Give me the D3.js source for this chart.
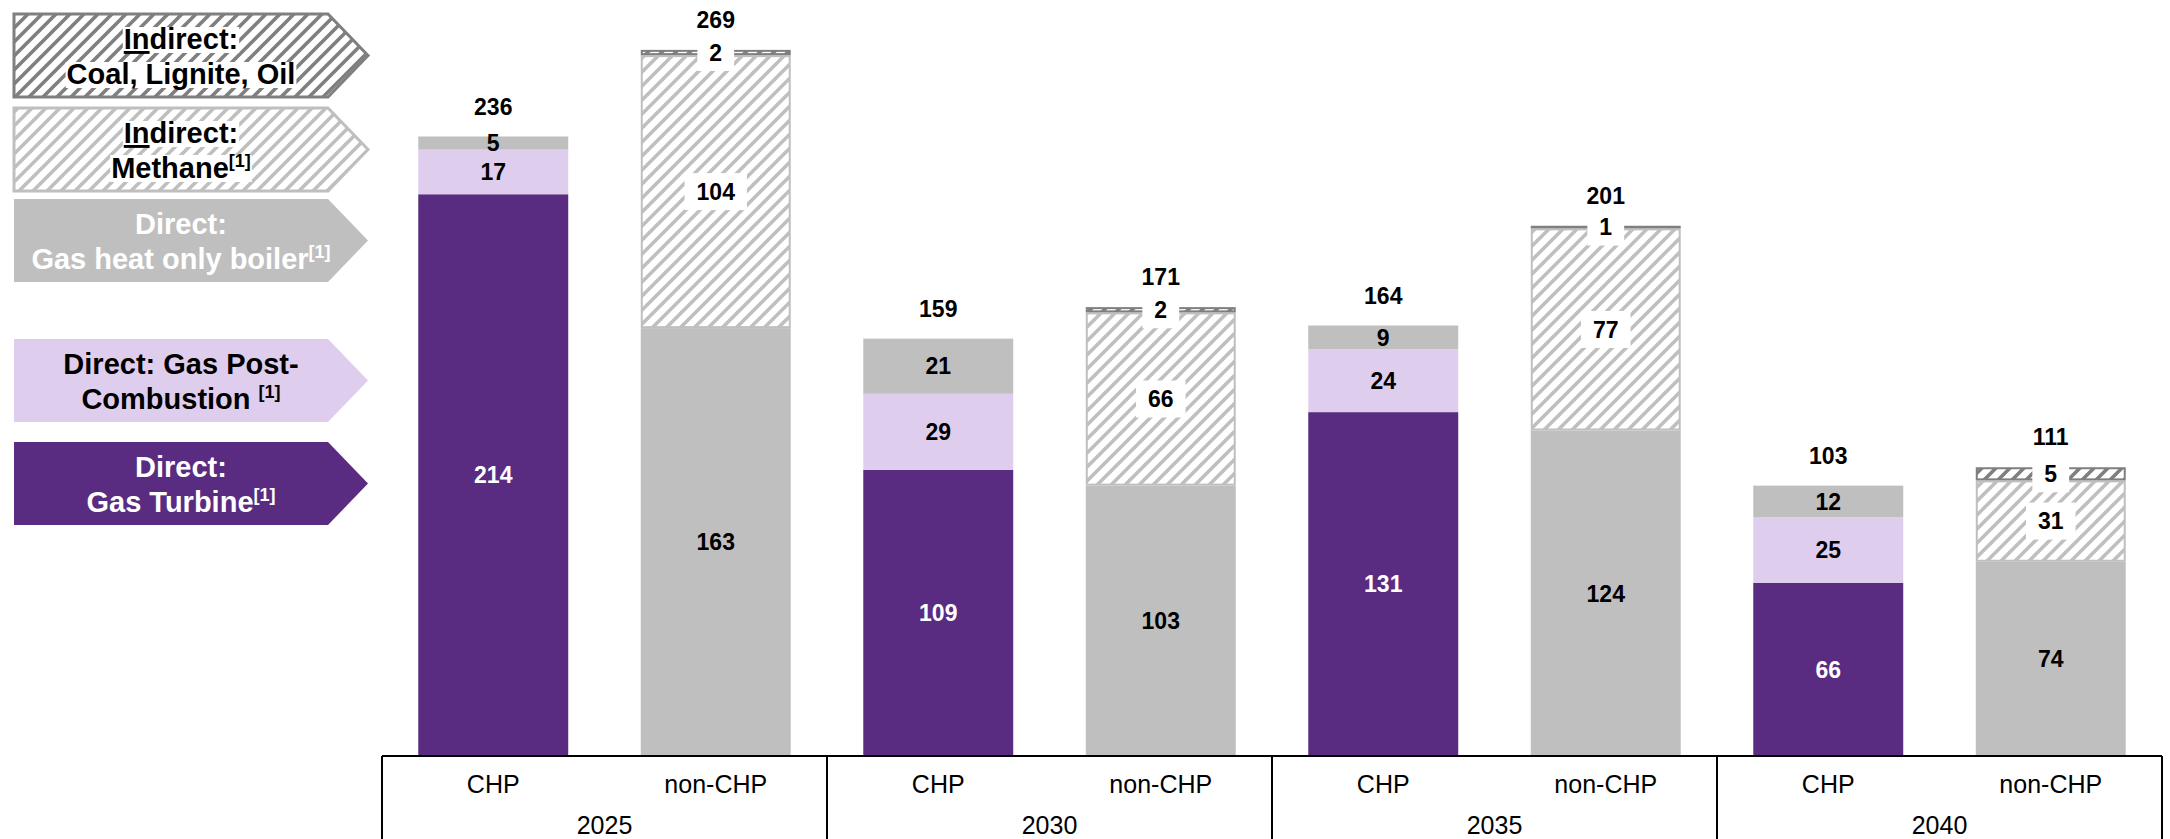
<!DOCTYPE html>
<html><head><meta charset="utf-8">
<script src="https://cdn.jsdelivr.net/npm/d3@7"></script>
<style>
html,body{margin:0;padding:0;background:#fff;}
svg{display:block;font-family:"Liberation Sans",Arial,sans-serif;}
</style></head>
<body>
<svg id="chart" width="2170" height="839"></svg>
<script>
// ---------- data ----------
const years = ["2025", "2030", "2035", "2040"];
const types = ["CHP", "non-CHP"];
// one value per bar: 2025 CHP, 2025 non-CHP, 2030 CHP, ...
const gasTurbine  = [214, 0, 109, 0, 131, 0, 66, 0];
const gasPostComb = [17, 0, 29, 0, 24, 0, 25, 0];
const gasBoiler   = [5, 163, 21, 103, 9, 124, 12, 74];
const methane     = [0, 104, 0, 66, 0, 77, 0, 31];
const coal        = [0, 2, 0, 2, 0, 1, 0, 5];
const totals      = [236, 269, 159, 171, 164, 201, 103, 111];
const seriesKeys  = ["turbine", "postComb", "boiler", "methane", "coal"];

// ---------- setup ----------
const svg = d3.select("#chart");
const PURPLE = "#592c82", LAV = "#dfcdee", GRAY = "#bfbfbf", DARK = "#7f7f7f";
const baseY = 756, axL = 382, axR = 2162;

const defs = svg.append("defs");
function hatch(id, color, sw) {
  const p = defs.append("pattern").attr("id", id).attr("patternUnits", "userSpaceOnUse")
    .attr("width", 14).attr("height", 14);
  p.append("rect").attr("width", 14).attr("height", 14).attr("fill", "#fff");
  p.append("path").attr("d", "M-3.5,3.5 l7,-7 M0,14 l14,-14 M10.5,17.5 l7,-7")
    .attr("stroke", color).attr("stroke-width", sw).attr("fill", "none");
}
hatch("hatchLight", GRAY, 3.6);
hatch("hatchDark", DARK, 3.6);

const style = {
  turbine:  {fill: PURPLE, stroke: "none", text: "#fff", box: false},
  postComb: {fill: LAV, stroke: "none", text: "#000", box: false},
  boiler:   {fill: GRAY, stroke: "none", text: "#000", box: false},
  methane:  {fill: "url(#hatchLight)", stroke: GRAY, text: "#000", box: true},
  coal:     {fill: "url(#hatchDark)", stroke: DARK, text: "#000", box: true}
};

const rows = d3.range(totals.length).map(i => ({
  year: years[Math.floor(i / 2)], type: types[i % 2], total: totals[i],
  turbine: gasTurbine[i], postComb: gasPostComb[i], boiler: gasBoiler[i],
  methane: methane[i], coal: coal[i]
}));

const y = d3.scaleLinear().domain([0, 288]).range([baseY, 0]);
const x0 = d3.scaleBand().domain(years).range([axL, axR]);
const x1 = d3.scaleBand().domain(types).range([0, x0.bandwidth()])
  .paddingInner(0.326).paddingOuter(0.163);

const stacked = d3.stack().keys(seriesKeys)(rows);

// ---------- bars ----------
const gBars = svg.append("g");
stacked.forEach(s => {
  const st = style[s.key];
  const ins = st.stroke !== "none" ? 1 : 0;
  gBars.selectAll(null).data(s.filter(d => d.data[s.key] > 0)).join("rect")
    .attr("x", d => x0(d.data.year) + x1(d.data.type) + ins)
    .attr("width", x1.bandwidth() - 2 * ins)
    .attr("y", d => y(d[1]) + ins)
    .attr("height", d => Math.max(0.5, y(d[0]) - y(d[1]) - 2 * ins))
    .attr("fill", st.fill).attr("stroke", st.stroke).attr("stroke-width", 2);
});

// ---------- segment labels ----------
const gBox = svg.append("g"), gLab = svg.append("g");
stacked.forEach(s => {
  const st = style[s.key];
  s.filter(d => d.data[s.key] > 0).forEach(d => {
    const cx = x0(d.data.year) + x1(d.data.type) + x1.bandwidth() / 2;
    const cy = (y(d[0]) + y(d[1])) / 2;
    const t = gLab.append("text").attr("x", cx).attr("y", cy).attr("dy", "0.36em")
      .attr("text-anchor", "middle").attr("font-size", 23).attr("font-weight", "bold")
      .attr("fill", st.text).text(d.data[s.key]);
    if (st.box) {
      const w = t.node().getComputedTextLength() + 24;
      gBox.append("rect").attr("x", cx - w / 2).attr("y", cy - 18.5)
        .attr("width", w).attr("height", 37).attr("fill", "#fff");
    }
  });
});

// ---------- totals ----------
const last = stacked[stacked.length - 1];
svg.append("g").selectAll("text").data(last).join("text")
  .attr("x", d => x0(d.data.year) + x1(d.data.type) + x1.bandwidth() / 2)
  .attr("y", d => y(d[1]) - 22)
  .attr("text-anchor", "middle").attr("font-size", 23).attr("font-weight", "bold")
  .attr("fill", "#000").text(d => d.data.total);

// ---------- axis ----------
const gAx = svg.append("g");
gAx.append("line").attr("x1", axL).attr("x2", axR).attr("y1", baseY).attr("y2", baseY)
  .attr("stroke", "#000").attr("stroke-width", 2);
years.concat([null]).forEach(yr => {
  const xx = yr === null ? axR : x0(yr);
  gAx.append("line").attr("x1", xx).attr("x2", xx).attr("y1", baseY).attr("y2", 839)
    .attr("stroke", "#000").attr("stroke-width", 2);
});
years.forEach(yr => {
  const g = svg.append("g").attr("transform", `translate(${x0(yr)},${baseY})`)
    .call(d3.axisBottom(x1).tickSize(0).tickPadding(19));
  g.select(".domain").remove();
  g.selectAll("text").attr("font-size", 25).attr("font-family", "Liberation Sans, Arial, sans-serif").attr("fill", "#000");
});
const gy = svg.append("g").attr("transform", `translate(0,${baseY})`)
  .call(d3.axisBottom(x0).tickSize(0).tickPadding(60));
gy.select(".domain").remove();
gy.selectAll("text").attr("font-size", 25).attr("font-family", "Liberation Sans, Arial, sans-serif").attr("fill", "#000");

// ---------- legend ----------
const legendKeys = ["coal", "methane", "boiler", "postComb", "turbine"];
const legendLines = [
  [[{t: "In", u: true}, {t: "direct:"}], [{t: "Coal, Lignite, Oil"}]],
  [[{t: "In", u: true}, {t: "direct:"}], [{t: "Methane"}, {t: "[1]", sup: true}]],
  [[{t: "Direct:"}], [{t: "Gas heat only boiler"}, {t: "[1]", sup: true}]],
  [[{t: "Direct: Gas Post-"}], [{t: "Combustion "}, {t: "[1]", sup: true}]],
  [[{t: "Direct:"}], [{t: "Gas Turbine"}, {t: "[1]", sup: true}]]
];
const legTops = [14, 108, 199, 339, 442];
const LX0 = 14, LX1 = 328, LXT = 368, LH = 83;
legendKeys.forEach((k, i) => {
  const st = style[k];
  const t0 = legTops[i];
  const g = svg.append("g");
  g.append("path")
    .attr("d", `M${LX0},${t0} H${LX1} L${LXT},${t0 + LH / 2} L${LX1},${t0 + LH} H${LX0} Z`)
    .attr("fill", st.fill).attr("stroke", st.stroke === "none" ? "none" : st.stroke)
    .attr("stroke-width", 3);
  const txtColor = (k === "boiler" || k === "turbine") ? "#fff" : "#000";
  legendLines[i].forEach((line, li) => {
    const t = g.append("text").attr("x", 181).attr("y", t0 + 35 + li * 35)
      .attr("text-anchor", "middle").attr("font-size", 29).attr("font-weight", "bold")
      .attr("fill", txtColor);
    line.forEach(part => {
      const ts = t.append("tspan").text(part.t);
      if (part.u) ts.attr("text-decoration", "underline").style("text-decoration", "underline");
      if (part.sup) ts.attr("font-size", 18).attr("dy", -11);
    });
    if (st.box) {
      const bb = t.node().getBBox();
      g.insert("rect", "text").attr("x", bb.x - 1).attr("y", bb.y + 4)
        .attr("width", bb.width + 2).attr("height", bb.height - 6).attr("fill", "#fff");
    }
  });
});
</script>
</body></html>
